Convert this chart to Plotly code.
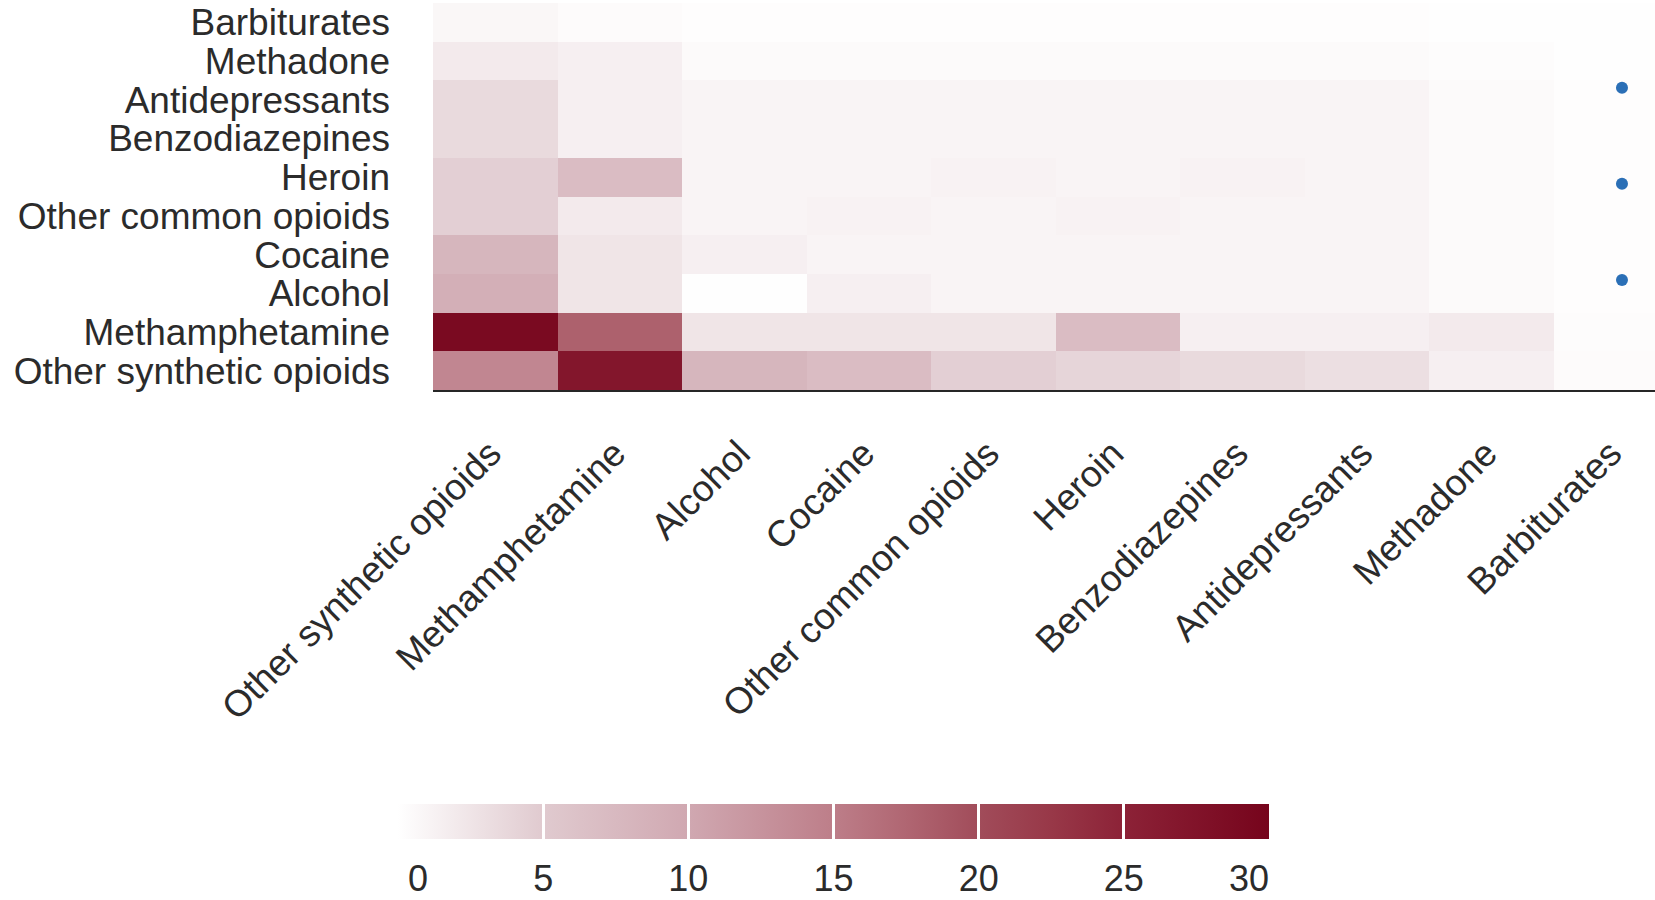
import plotly.graph_objects as go

# Substance names, in axis order (bottom-to-top on y, left-to-right on x)
substances = [
    "Other synthetic opioids", "Methamphetamine", "Alcohol", "Cocaine",
    "Other common opioids", "Heroin", "Benzodiazepines", "Antidepressants",
    "Methadone", "Barbiturates",
]

# Co-occurrence values; one list per y-row, columns follow `substances`
row_other_synthetic = [14, 27, 8, 7, 4.5, 4, 3.5, 3, 1.5, 0.4]
row_methamphetamine = [29, 18, 2.5, 2.5, 2.5, 7, 1.5, 1.5, 2, 0.3]
row_alcohol = [9, 2.5, 0.1, 1.5, 1, 1, 1, 1, 0.5, 0.2]
row_cocaine = [8, 2.5, 1.5, 1, 1, 1, 1, 1, 0.5, 0.2]
row_other_common = [4.5, 2, 1, 1.2, 1, 1.2, 1, 1, 0.5, 0.2]
row_heroin = [4.5, 7, 1, 1, 1.2, 1, 1.2, 1, 0.5, 0.2]
row_benzodiazepines = [3.5, 1.5, 1, 1, 1, 1, 1, 1, 0.5, 0.2]
row_antidepressants = [3.5, 1.5, 1, 1, 1, 1, 1, 1, 0.5, 0.2]
row_methadone = [2, 1.5, 0.5, 0.5, 0.5, 0.5, 0.5, 0.5, 0.3, 0.1]
row_barbiturates = [0.8, 0.4, 0.2, 0.2, 0.2, 0.2, 0.2, 0.2, 0.1, 0.1]

z_rows = [
    row_other_synthetic, row_methamphetamine, row_alcohol, row_cocaine,
    row_other_common, row_heroin, row_benzodiazepines, row_antidepressants,
    row_methadone, row_barbiturates,
]

# Colour legend ticks
legend_ticks = [0, 5, 10, 15, 20, 25, 30]
legend_labels = ["\u2007\u20070", "5", "10", "15", "20", "25", "30\u2007\u2007"]
separator_ticks = [5, 10, 15, 20, 25]

# Three blue markers along the right edge
dot_x = [9.05, 9.05, 9.05]
dot_y = [7.31, 4.83, 2.34]

FONT = "Liberation Sans, Arial, sans-serif"
TEXT = "#2b2b2b"

reds = [
    [0.0, "rgb(255,255,255)"],
    [0.1667, "rgb(224,202,207)"],
    [0.3333, "rgb(208,168,177)"],
    [0.5, "rgb(189,126,137)"],
    [0.5833, "rgb(176,102,114)"],
    [0.6667, "rgb(161,76,90)"],
    [0.75, "rgb(152,56,72)"],
    [0.8333, "rgb(140,34,55)"],
    [1.0, "rgb(118,4,28)"],
]

idx = list(range(len(substances)))

fig = go.Figure()

fig.add_trace(go.Heatmap(
    z=z_rows, x=idx, y=idx, coloraxis="coloraxis",
    xgap=0, ygap=0, hoverinfo="skip",
))

# Carries the second colour bar that draws the white segment separators
fig.add_trace(go.Scatter(
    x=[None], y=[None], mode="markers",
    marker=dict(color=[0], coloraxis="coloraxis2"),
    showlegend=False, hoverinfo="skip",
))

fig.add_trace(go.Scatter(
    x=dot_x, y=dot_y, mode="markers",
    marker=dict(size=12, color="#2b6fb6"),
    showlegend=False, hoverinfo="skip",
))

PLOT_L, PLOT_T, PLOT_B = 433, 3, 390
PLOT_W = 1655 - PLOT_L
PLOT_H = PLOT_B - PLOT_T
bar_x = (398 - PLOT_L) / PLOT_W
bar_y = (PLOT_B - 804) / PLOT_H

common_bar = dict(
    orientation="h", thickness=35, lenmode="pixels", len=871,
    x=bar_x, xanchor="left", y=bar_y, yanchor="top",
    xpad=0, ypad=0, outlinewidth=0,
)

fig.update_layout(
    width=1655, height=900,
    margin=dict(l=PLOT_L, r=0, t=PLOT_T, b=900 - PLOT_B),
    paper_bgcolor="white", plot_bgcolor="white",
    font=dict(family=FONT, color=TEXT),
    showlegend=False,
    coloraxis=dict(
        colorscale=reds, cmin=0, cmax=30,
        colorbar=dict(
            **common_bar,
            tickmode="array", tickvals=legend_ticks, ticktext=legend_labels,
            ticks="outside", ticklen=9, tickcolor="rgba(0,0,0,0)",
            tickfont=dict(family=FONT, size=36, color=TEXT),
        ),
    ),
    coloraxis2=dict(
        colorscale=reds, cmin=0, cmax=30,
        colorbar=dict(
            **common_bar,
            tickmode="array", tickvals=separator_ticks,
            ticks="inside", ticklen=35, tickwidth=2.5, tickcolor="white",
            showticklabels=False,
        ),
    ),
    xaxis=dict(
        range=[-0.5, -0.5 + PLOT_W / 124.5],
        tickmode="array", tickvals=idx, ticktext=substances,
        tickangle=-45, tickfont=dict(family=FONT, size=37, color=TEXT),
        showgrid=False, zeroline=False, automargin=False,
        showline=True, linecolor="#262626", linewidth=2,
        ticks="", ticklabelstandoff=25, ticklabelshift=-5,
    ),
    yaxis=dict(
        range=[-0.5, 9.5],
        tickmode="array", tickvals=idx, ticktext=substances,
        tickfont=dict(family=FONT, size=37, color=TEXT),
        showgrid=False, zeroline=False, showline=False, automargin=False,
        ticks="", ticklabelstandoff=42,
    ),
)

fig.write_html("out.html")
